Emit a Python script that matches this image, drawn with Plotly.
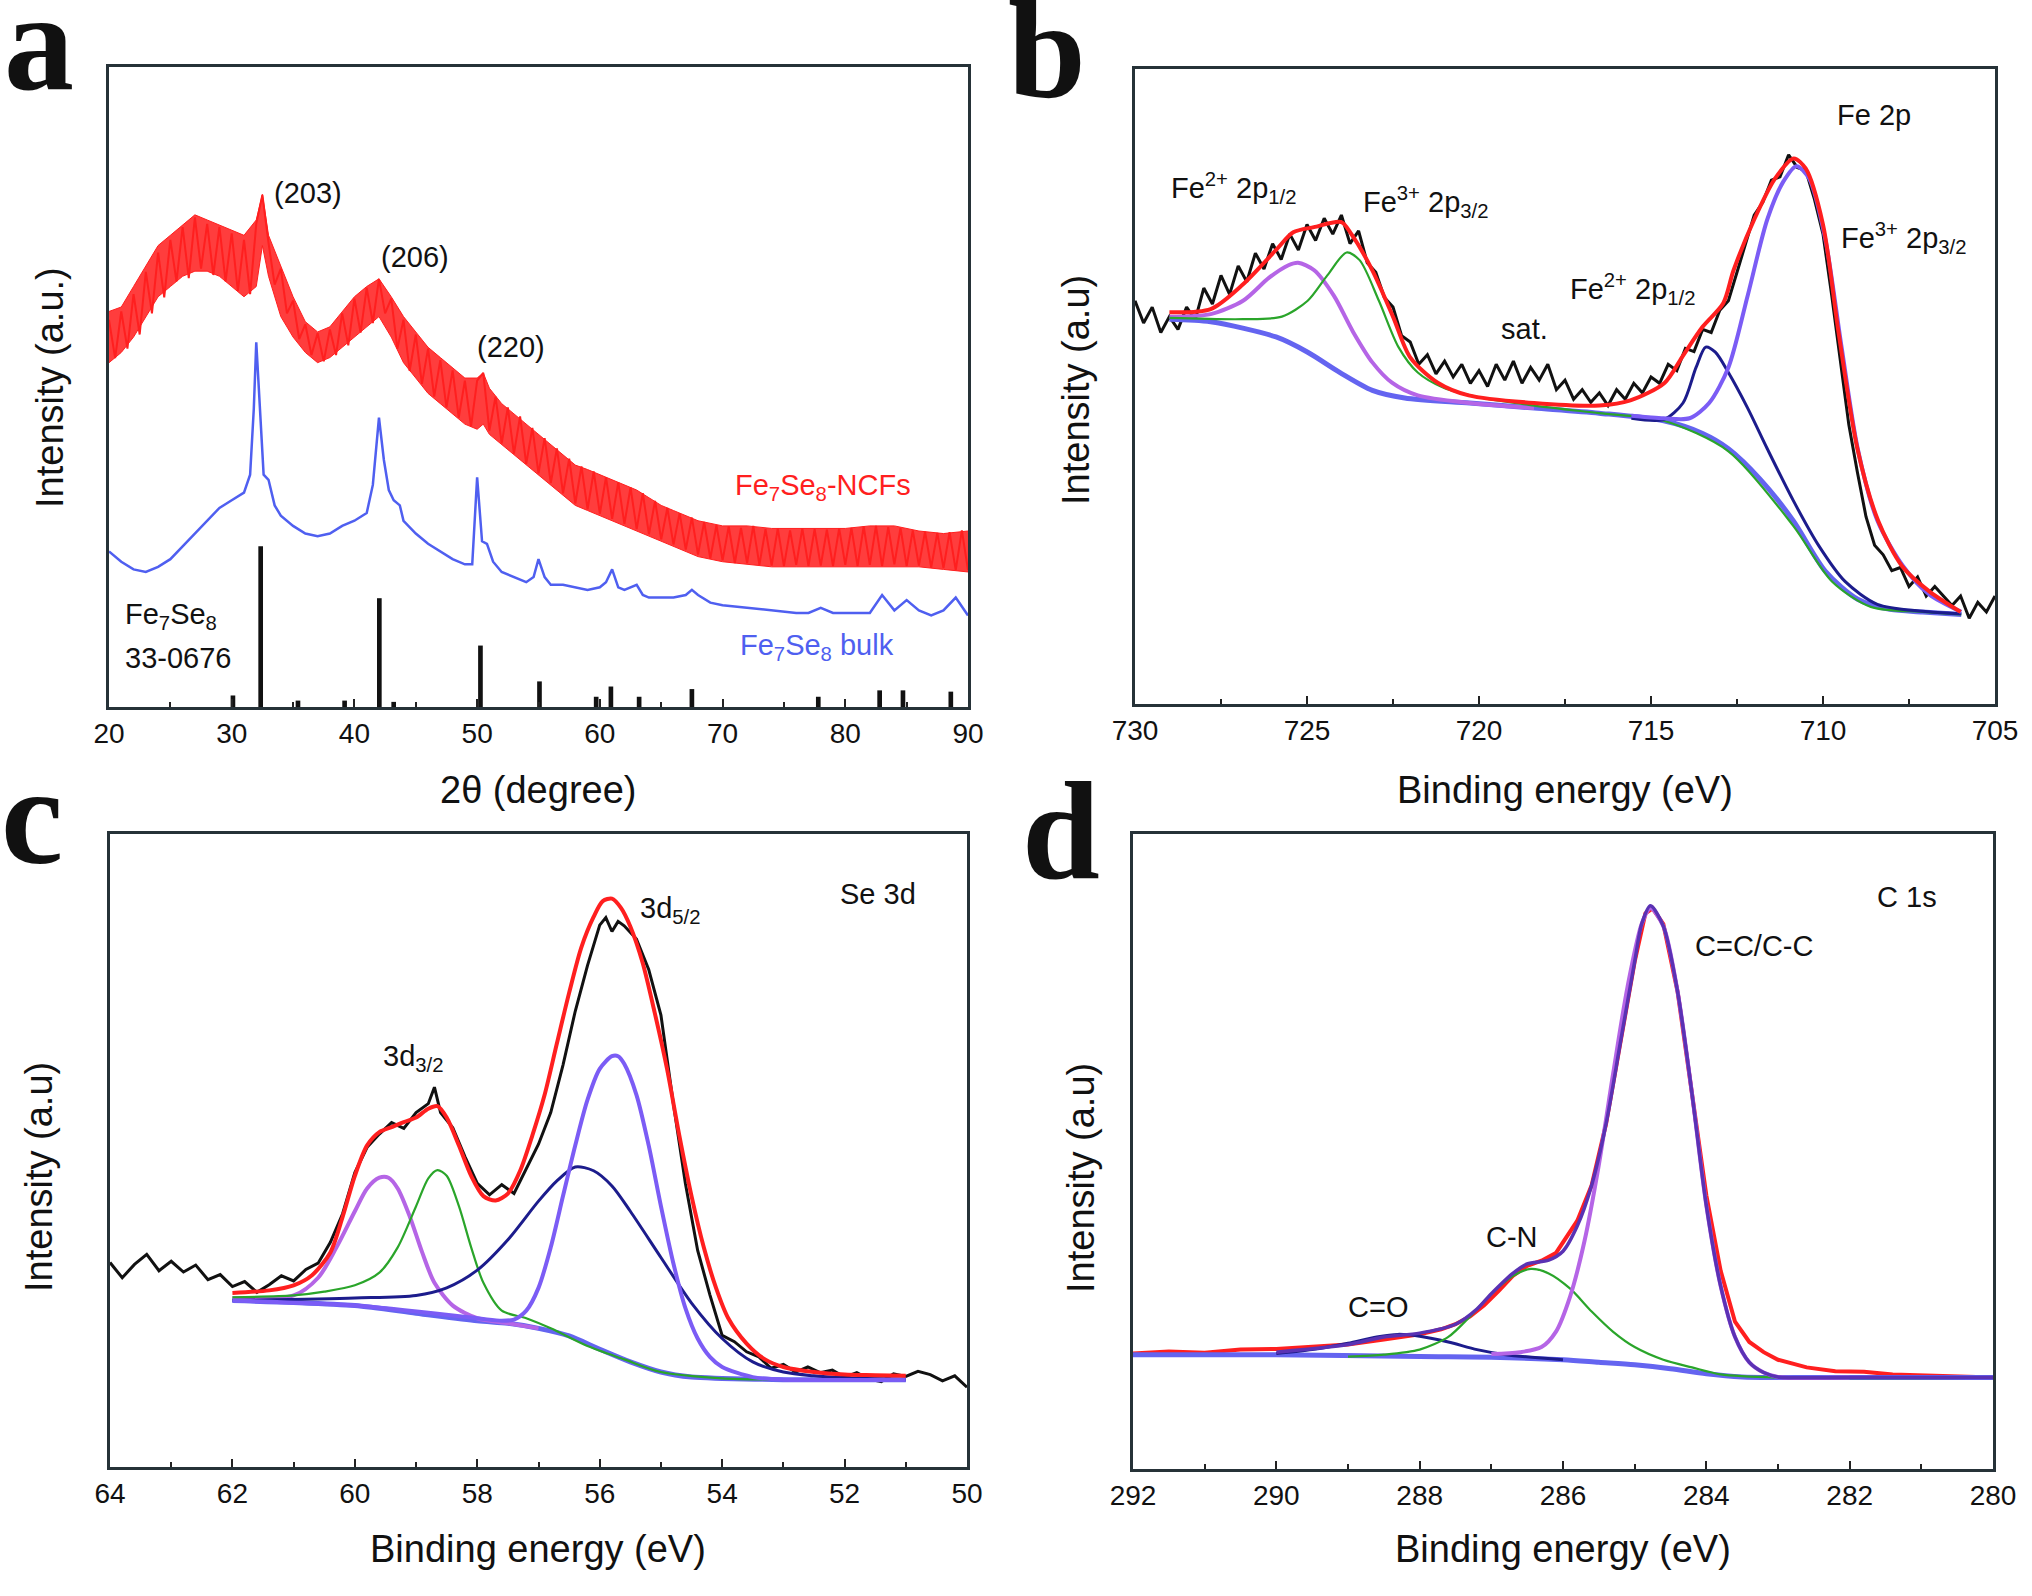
import plotly.graph_objects as go

W, H = 2032, 1596

# ---------------- panel a : XRD ----------------
a_bulk_x = [20, 21, 22, 23, 24, 25, 26, 27, 28, 29, 30, 31, 31.5, 31.8, 32, 32.3, 32.6, 33, 33.5, 34, 35, 36, 37,
            38, 39, 40, 41, 41.5, 42, 42.4, 42.8, 43.2, 43.7, 44, 45, 46, 47, 48, 49, 49.6, 50, 50.4, 50.8, 51.3,
            52, 53, 54, 54.6, 55, 55.5, 56, 57, 58, 59, 60, 60.5, 61, 61.5, 62, 63, 63.5, 64, 65, 66, 67, 67.5,
            68, 69, 70, 72, 74, 76, 77, 78, 79, 80, 82, 83, 84, 85, 86, 87, 88, 89, 90]
a_bulk_y = [24.3, 22.7, 21.5, 21.1, 21.9, 23.1, 25.1, 27.1, 29.1, 31.1, 32.3, 33.5, 36.3, 46.6, 57.0, 46.6, 36.3,
            35.5, 31.5, 29.9, 28.3, 27.1, 26.7, 27.1, 28.3, 29.1, 30.3, 34.7, 45.2, 38.6, 33.9, 32.3, 31.5, 29.1,
            27.1, 25.5, 24.3, 23.1, 22.3, 22.3, 35.9, 25.9, 25.5, 22.7, 21.1, 20.3, 19.5, 20.3, 23.1, 20.3, 19.1,
            19.1, 18.7, 18.3, 18.7, 19.5, 21.5, 18.7, 18.3, 19.1, 17.5, 17.1, 17.1, 17.1, 17.5, 18.3, 17.5, 16.3,
            15.9, 15.5, 15.1, 14.7, 14.7, 15.5, 14.7, 14.7, 14.7, 17.5, 15.1, 16.7, 15.1, 14.3, 15.1, 17.1, 14.3]

# envelope of the noisy NCF trace
a_ncf_x = [20, 21, 22, 23, 24, 25, 26, 27, 28, 29, 30, 31, 32, 32.5, 33, 34, 35, 36, 37, 38, 39, 40, 41, 42, 43,
           44, 45, 46, 47, 48, 49, 50, 50.5, 51, 52, 53, 54, 55, 56, 57, 58, 59, 60, 61, 62, 63, 64, 65, 66, 67,
           68, 70, 72, 74, 76, 78, 80, 82, 84, 86, 88, 90]
a_ncf_hi = [61.8, 62.5, 65.7, 68.9, 72.1, 73.7, 75.3, 76.9, 76.1, 75.3, 74.5, 73.7, 76.1, 80.1, 73.7, 68.9, 64.1,
            60.2, 58.6, 59.4, 61.8, 64.1, 65.7, 66.9, 64.1, 61.0, 58.6, 56.2, 54.6, 53.0, 51.4, 51.4, 52.2, 49.8,
            47.4, 45.8, 44.2, 42.6, 41.0, 39.4, 37.8, 37.1, 36.3, 35.5, 34.7, 33.9, 32.7, 31.5, 30.7, 29.9, 29.1,
            28.3, 28.3, 27.9, 27.9, 27.9, 27.9, 28.3, 28.3, 27.5, 27.1, 27.5]
a_ncf_lo = [53.8, 55.4, 57.8, 61.0, 64.1, 65.7, 67.3, 68.1, 68.1, 67.3, 65.7, 64.1, 65.7, 72.1, 67.3, 61.0, 57.8,
            55.4, 53.8, 54.6, 56.2, 57.8, 59.4, 61.0, 57.8, 53.8, 51.4, 49.0, 47.4, 45.8, 44.2, 43.4, 44.2, 42.6,
            41.0, 39.4, 37.8, 36.3, 34.7, 33.1, 31.5, 30.7, 29.9, 29.1, 28.3, 27.5, 26.7, 25.9, 25.1, 24.3, 23.5,
            22.7, 22.3, 21.9, 21.9, 21.9, 21.9, 21.9, 21.9, 21.9, 21.5, 21.1]
# the trace itself, read every 0.5 degree
a_raw_x = [20 + 0.5 * i for i in range(141)]
a_raw_y = [60.5, 54.5, 61.8, 56.0, 64.5, 58.2, 68.0, 61.5, 71.0, 64.0, 73.0, 66.5, 75.0, 67.0, 76.5, 68.5, 75.5,
           67.5, 75.0, 66.5, 74.0, 65.0, 73.0, 64.5, 75.5, 80.0, 72.5, 66.0, 68.5, 61.5, 63.5, 57.5, 59.8, 55.0,
           58.4, 54.0, 59.0, 55.0, 61.5, 56.5, 63.8, 58.5, 65.5, 60.0, 66.9, 61.5, 63.8, 56.0, 60.5, 52.5, 58.2,
           50.5, 56.0, 48.5, 54.2, 46.8, 52.6, 45.2, 51.0, 43.8, 51.0, 52.2, 43.2, 48.5, 41.2, 46.8, 39.6, 45.4,
           38.0, 43.6, 36.5, 42.0, 35.0, 40.4, 33.4, 38.8, 31.8, 37.6, 30.9, 36.8, 30.2, 35.9, 29.4, 35.1, 28.6,
           34.3, 27.8, 33.4, 27.0, 32.2, 26.2, 31.1, 25.4, 30.3, 24.6, 29.6, 23.8, 28.9, 23.2, 28.4, 22.9, 28.2,
           22.5, 28.0, 22.5, 28.3, 22.2, 27.8, 22.1, 27.9, 22.0, 27.6, 22.2, 27.9, 22.0, 27.8, 22.1, 27.7, 22.0,
           27.9, 22.2, 28.0, 22.0, 28.2, 22.2, 28.3, 22.0, 28.1, 22.3, 28.0, 22.0, 27.6, 22.1, 27.4, 21.8, 27.2,
           21.7, 27.3, 21.4, 27.6, 21.4]

a_ref_x = [30.1, 32.36, 35.4, 39.2, 42.03, 43.2, 50.27, 55.08, 59.7, 60.9, 63.2, 67.5, 77.8, 82.8, 84.7, 88.6]
a_ref_h = [1.8, 25.1, 1.0, 1.0, 17.0, 0.8, 9.6, 4.0, 1.6, 3.2, 1.6, 2.8, 1.6, 2.6, 2.6, 2.4]

# ---------------- panel b : Fe 2p ----------------
b_raw_x = [730.0, 729.75, 729.5, 729.25, 729.0, 728.75, 728.5, 728.25, 728.0, 727.75, 727.5, 727.25, 727.0,
           726.75, 726.5, 726.25, 726.0, 725.75, 725.5, 725.25, 725.0, 724.75, 724.5, 724.25, 724.0, 723.75,
           723.5, 723.25, 723.0, 722.75, 722.5, 722.25, 722.0, 721.75, 721.5, 721.25, 721.0, 720.75, 720.5,
           720.25, 720.0, 719.75, 719.5, 719.25, 719.0, 718.75, 718.5, 718.25, 718.0, 717.75, 717.5, 717.25,
           717.0, 716.75, 716.5, 716.25, 716.0, 715.75, 715.5, 715.25, 715.0, 714.75, 714.5, 714.25, 714.0,
           713.75, 713.5, 713.25, 713.0, 712.75, 712.5, 712.25, 712.0, 711.75, 711.5, 711.25, 711.0, 710.75,
           710.5, 710.25, 710.0, 709.75, 709.5, 709.25, 709.0, 708.75, 708.5, 708.25, 708.0, 707.75, 707.5,
           707.25, 707.0, 706.75, 706.25, 706.0, 705.75, 705.5, 705.25, 705.0]
b_raw_y = [63.5, 60.0, 62.5, 58.5, 61.0, 59.0, 62.5, 60.5, 65.5, 63.0, 67.5, 64.5, 69.0, 66.5, 71.0, 68.5, 72.5,
           70.0, 74.0, 71.5, 75.5, 73.0, 76.5, 74.0, 77.0, 72.5, 74.5, 69.5, 68.0, 64.0, 62.5, 58.0, 57.0, 53.5,
           55.0, 52.0, 54.0, 51.5, 53.5, 50.5, 52.5, 50.0, 53.5, 51.0, 54.0, 50.5, 53.0, 51.0, 53.5, 49.5, 51.0,
           48.0, 49.5, 47.5, 49.0, 47.0, 49.5, 48.0, 50.5, 49.0, 51.5, 50.5, 53.5, 52.5, 56.0, 55.5, 59.0, 58.5,
           62.0, 63.5, 68.0, 72.5, 77.0, 79.0, 82.5, 83.0, 86.5, 84.5, 84.0, 79.5, 74.0, 64.5, 54.0, 44.0, 36.5,
           29.5, 25.0, 23.5, 21.0, 21.5, 18.5, 20.0, 17.0, 18.5, 15.5, 17.0, 13.5, 16.0, 14.5, 17.0]
b_fit_x = [729.0, 727.8, 726.9, 725.9, 725.4, 724.8, 724.0, 723.7, 723.1, 722.5, 722.0, 721.2, 720.3, 718.4,
           716.5, 715.6, 714.6, 714.1, 713.5, 712.9, 712.6, 712.0, 711.4, 710.85, 710.5, 710.0, 709.55, 709.0,
           708.4, 707.7, 706.9, 706.0]
b_fit_y = [61.7, 62.2, 65.9, 71.5, 74.3, 75.1, 75.9, 73.9, 68.3, 61.0, 54.6, 50.6, 48.6, 47.4, 47.0, 47.8, 50.6,
           54.6, 59.4, 63.1, 68.3, 76.3, 82.7, 85.9, 84.3, 75.5, 58.6, 40.2, 28.9, 21.7, 17.7, 14.5]
b_bg_x = [729.0, 727.8, 725.9, 724.98, 724.04, 723.1, 722.16, 720.27, 718.39, 716.51, 714.63, 713.5, 712.75,
          711.81, 710.87, 709.93, 708.99, 708.05, 707.11, 705.98]
b_bg_y = [60.6, 60.2, 57.8, 55.4, 52.2, 49.4, 48.2, 47.4, 46.6, 45.8, 44.6, 42.6, 40.2, 35.3, 28.9, 20.9, 16.5,
          14.9, 14.5, 14.1]
b_p1_x = [729.0, 727.8, 726.86, 726.11, 725.54, 725.26, 724.79, 724.22, 723.66, 723.1, 722.53, 721.78, 720.27, 718.4]
b_p1_y = [61.0, 61.4, 63.5, 67.1, 69.1, 69.5, 68.3, 64.3, 58.6, 53.8, 50.6, 48.6, 47.4, 46.6]
b_p2_x = [729.0, 726.86, 725.73, 724.98, 724.41, 723.85, 723.47, 722.91, 722.34, 721.78, 721.03, 719.9, 718.39,
          716.51, 714.63, 712.75, 710.87, 709.74, 708.61, 707.11, 705.98]
b_p2_y = [60.8, 60.6, 61.0, 63.5, 67.5, 71.1, 69.9, 63.5, 56.2, 52.2, 49.8, 48.2, 47.0, 45.8, 44.6, 39.8, 28.1,
          19.3, 15.3, 14.5, 14.1]
b_p3_x = [715.57, 714.63, 714.07, 713.69, 713.41, 713.13, 712.75, 712.19, 711.62, 710.87, 710.12, 709.36, 708.42,
          707.11, 705.98]
b_p3_y = [45.0, 44.8, 47.4, 53.0, 56.2, 55.4, 52.2, 46.6, 40.2, 32.1, 24.9, 19.3, 15.7, 14.6, 14.2]
b_p4_x = [715.57, 714.63, 713.88, 713.31, 712.75, 712.19, 711.62, 711.15, 710.77, 710.4, 709.93, 709.46, 708.99,
          708.42, 707.67, 706.92, 705.98]
b_p4_y = [45.4, 45.0, 45.0, 47.4, 53.0, 64.3, 76.3, 82.3, 84.7, 82.7, 73.1, 56.2, 40.2, 28.9, 21.7, 17.3, 14.5]

# ---------------- panel c : Se 3d ----------------
c_raw_x = [64.0, 63.8, 63.6, 63.4, 63.2, 63.0, 62.8, 62.6, 62.4, 62.2, 62.0, 61.8, 61.6, 61.4, 61.2, 61.0, 60.8,
           60.6, 60.4, 60.2, 60.0, 59.8, 59.6, 59.4, 59.2, 59.0, 58.8, 58.7, 58.6, 58.4, 58.2, 58.0, 57.8, 57.6,
           57.4, 57.2, 57.0, 56.8, 56.6, 56.4, 56.2, 56.0, 55.9, 55.8, 55.7, 55.6, 55.4, 55.2, 55.0, 54.8, 54.6,
           54.4, 54.2, 54.0, 53.8, 53.6, 53.4, 53.2, 53.0, 52.8, 52.6, 52.4, 52.2, 52.0, 51.8, 51.6, 51.4, 51.2,
           51.0, 50.8, 50.6, 50.4, 50.2, 50.0]
c_raw_y = [32.3, 29.9, 32.0, 33.6, 31.0, 32.5, 30.8, 31.9, 29.6, 30.4, 28.5, 29.3, 27.6, 28.8, 30.2, 29.4, 31.2,
           32.2, 35.5, 40.0, 46.5, 50.5, 52.6, 54.4, 53.5, 56.0, 57.4, 60.0, 56.0, 53.6, 49.0, 44.8, 43.0, 44.6,
           43.2, 47.0, 51.0, 56.0, 63.5, 72.0, 79.2, 85.6, 86.8, 84.6, 86.2, 85.5, 83.4, 78.6, 71.4, 57.6, 44.8,
           34.2, 27.2, 20.8, 19.8, 18.2, 17.4, 15.6, 16.2, 15.0, 15.8, 14.9, 15.3, 14.2, 14.9, 13.9, 13.5, 14.7,
           14.3, 15.1, 14.6, 13.6, 14.4, 12.6]
c_fit_x = [62.0, 61.4, 61.0, 60.7, 60.4, 60.2, 60.0, 59.8, 59.6, 59.4, 59.2, 59.0, 58.8, 58.65, 58.5, 58.3, 58.1,
           57.9, 57.7, 57.5, 57.3, 57.1, 56.9, 56.7, 56.5, 56.3, 56.1, 55.95, 55.8, 55.65, 55.5, 55.3, 55.1, 54.9,
           54.7, 54.5, 54.3, 54.1, 53.9, 53.6, 53.3, 53.0, 52.5, 52.0, 51.5, 51.0]
c_fit_y = [27.5, 27.9, 28.7, 30.3, 33.9, 39.5, 46.0, 50.8, 52.9, 53.7, 54.5, 55.2, 56.6, 57.0, 55.2, 50.8, 46.0,
           42.8, 42.1, 43.2, 46.8, 52.4, 58.8, 66.9, 74.9, 82.1, 86.9, 89.4, 89.8, 88.3, 85.4, 79.7, 71.7, 62.9,
           52.4, 42.8, 34.7, 28.3, 23.5, 19.5, 17.0, 15.8, 15.0, 14.6, 14.5, 14.4]
c_bg_x = [62.0, 61.0, 60.0, 59.0, 58.0, 57.5, 57.0, 56.5, 56.0, 55.5, 55.0, 54.5, 54.0, 53.0, 52.0, 51.0]
c_bg_y = [26.3, 26.0, 25.5, 24.3, 23.1, 22.7, 21.9, 20.7, 18.6, 16.6, 15.0, 14.2, 14.0, 13.8, 13.8, 13.8]
c_p1_x = [62.0, 61.0, 60.6, 60.3, 60.0, 59.8, 59.6, 59.45, 59.3, 59.1, 58.9, 58.7, 58.4, 58.0, 57.5, 57.0]
c_p1_y = [26.7, 27.1, 29.9, 34.7, 40.4, 44.0, 45.7, 45.7, 44.0, 39.5, 33.9, 29.1, 25.5, 23.5, 22.7, 21.9]
c_p2_x = [62.0, 61.0, 60.5, 60.0, 59.6, 59.3, 59.0, 58.8, 58.65, 58.5, 58.3, 58.1, 57.9, 57.6, 57.2, 56.8, 56.2,
          55.6, 55.0, 54.0, 53.0, 52.0, 51.0]
c_p2_y = [26.8, 27.1, 27.7, 28.7, 30.7, 34.7, 41.2, 45.6, 46.9, 46.0, 41.2, 34.7, 29.1, 24.7, 23.5, 21.9, 19.1,
          17.0, 15.0, 14.0, 13.8, 13.8, 13.8]
c_p3_x = [62.0, 60.0, 59.0, 58.5, 58.0, 57.5, 57.0, 56.7, 56.4, 56.1, 55.8, 55.5, 55.0, 54.5, 54.0, 53.5, 53.0,
          52.5, 52.0, 51.0]
c_p3_y = [26.3, 26.7, 27.1, 28.3, 31.1, 35.9, 42.0, 45.2, 47.4, 46.8, 44.4, 40.4, 33.1, 25.9, 20.3, 16.6, 15.0,
          14.4, 14.1, 13.8]
c_p4_x = [62.0, 60.0, 58.0, 57.6, 57.4, 57.2, 57.0, 56.8, 56.6, 56.4, 56.2, 56.0, 55.8, 55.7, 55.6, 55.4, 55.2,
          55.0, 54.8, 54.6, 54.4, 54.2, 54.0, 53.5, 53.0, 51.0]
c_p4_y = [26.3, 25.5, 23.5, 23.1, 23.3, 24.7, 28.3, 34.7, 42.8, 50.8, 58.0, 62.9, 64.9, 64.9, 63.7, 58.8, 50.8,
          41.2, 32.3, 25.1, 20.3, 17.4, 15.8, 14.2, 13.8, 13.8]

# ---------------- panel d : C 1s ----------------
d_raw_x = [292.0, 291.5, 291.0, 290.5, 290.0, 289.5, 289.0, 288.5, 288.0, 287.7, 287.5, 287.3, 287.1, 286.9,
           286.7, 286.5, 286.3, 286.1, 285.95, 285.8, 285.6, 285.4, 285.2, 285.0, 284.85, 284.75, 284.6, 284.4,
           284.2, 284.0, 283.8, 283.6, 283.4, 283.2, 283.0, 282.6, 282.2, 281.8, 281.4, 281.0, 280.5, 280.0]
d_raw_y = [18.2, 18.5, 18.3, 18.8, 18.9, 19.3, 19.6, 20.4, 21.2, 22.0, 22.8, 24.0, 25.8, 28.0, 30.4, 32.0, 32.8,
           34.0, 36.5, 39.1, 44.7, 54.3, 67.1, 79.9, 87.5, 88.3, 85.8, 75.1, 59.1, 43.1, 31.2, 23.2, 20.0, 18.4,
           17.2, 16.0, 15.4, 15.3, 14.9, 14.8, 14.6, 14.4]
d_env_x = [290.0, 289.0, 288.5, 288.0, 287.5, 287.2, 287.0, 286.7, 286.5, 286.2, 286.0, 285.8, 285.6, 285.4,
           285.2, 285.0, 284.9, 284.78, 284.6, 284.4, 284.2, 284.0, 283.8, 283.6, 283.4, 283.2, 283.0, 282.0, 280.0]
d_env_y = [18.4, 19.6, 20.8, 21.4, 22.8, 25.2, 27.6, 30.8, 32.3, 32.9, 34.3, 38.3, 44.7, 54.3, 67.1, 79.9, 85.9,
           88.7, 85.5, 75.1, 59.1, 41.5, 28.8, 20.8, 16.8, 15.2, 14.5, 14.4, 14.4]
d_bg_x = [292.0, 290.0, 288.0, 287.0, 286.0, 285.5, 285.0, 284.5, 284.0, 283.5, 283.0, 280.0]
d_bg_y = [18.0, 18.0, 17.7, 17.6, 17.2, 16.8, 16.4, 15.8, 15.0, 14.5, 14.4, 14.4]
d_p1_x = [290.0, 289.5, 289.0, 288.6, 288.3, 288.0, 287.6, 287.2, 286.8, 286.0]
d_p1_y = [18.2, 18.8, 19.8, 20.8, 21.2, 20.9, 20.0, 18.8, 18.0, 17.2]
d_p2_x = [289.0, 288.5, 288.0, 287.6, 287.3, 287.0, 286.7, 286.45, 286.2, 285.9, 285.6, 285.3, 285.0, 284.6,
          284.2, 283.8, 283.0, 280.0]
d_p2_y = [17.7, 18.0, 18.8, 20.8, 24.0, 27.6, 30.4, 31.5, 30.8, 28.4, 24.8, 21.6, 19.2, 17.2, 16.0, 14.9, 14.4, 14.4]
d_p3_x = [287.0, 286.6, 286.3, 286.1, 285.9, 285.7, 285.5, 285.3, 285.1, 284.9, 284.78, 284.6, 284.4, 284.2,
          284.0, 283.8, 283.6, 283.4, 283.2, 283.0, 282.0]
d_p3_y = [18.1, 18.4, 19.2, 21.6, 27.2, 35.9, 47.9, 62.3, 75.9, 85.9, 88.3, 85.5, 75.1, 59.1, 41.5, 28.8, 20.8,
          16.8, 15.2, 14.5, 14.4]

RED = "#ff1f1f"
GREEN = "#2aa52a"
NAVY = "#1c1c8c"
VIOLET = "#7b5cf5"
ORCHID = "#b565e6"
BG = "#6464f0"
BLUE = "#4f5ff0"
FONT = "Liberation Sans, Arial, sans-serif"
SERIF = "Liberation Serif, Times New Roman, serif"

fig = go.Figure()


def line(x, y, color, width, xa, ya, spline=True):
    fig.add_scatter(x=x, y=y, mode="lines", xaxis=xa, yaxis=ya,
                    line=dict(color=color, width=width, shape="spline" if spline else "linear", smoothing=0.8))


# panel a
fig.add_bar(x=a_ref_x, y=a_ref_h, width=0.38, marker=dict(color="#111", line=dict(width=0)), xaxis="x", yaxis="y")
line(a_bulk_x, a_bulk_y, BLUE, 2.5, "x", "y", spline=False)
fig.add_scatter(x=a_ncf_x, y=a_ncf_lo, mode="lines", line=dict(color=RED, width=1), xaxis="x", yaxis="y")
fig.add_scatter(x=a_ncf_x, y=a_ncf_hi, mode="lines", line=dict(color=RED, width=1), fill="tonexty",
                fillcolor="rgba(255,40,40,0.9)", xaxis="x", yaxis="y")
line(a_raw_x, a_raw_y, RED, 2, "x", "y", spline=False)

# panel b
line(b_raw_x, b_raw_y, "#111", 3, "x2", "y2", spline=False)
line(b_bg_x, b_bg_y, BG, 5, "x2", "y2")
line(b_p1_x, b_p1_y, ORCHID, 4, "x2", "y2")
line(b_p2_x, b_p2_y, GREEN, 2.2, "x2", "y2")
line(b_p3_x, b_p3_y, NAVY, 3, "x2", "y2")
line(b_p4_x, b_p4_y, VIOLET, 4, "x2", "y2")
line(b_fit_x, b_fit_y, RED, 4, "x2", "y2")

# panel c
line(c_raw_x, c_raw_y, "#111", 3, "x3", "y3", spline=False)
line(c_bg_x, c_bg_y, BG, 5, "x3", "y3")
line(c_p1_x, c_p1_y, ORCHID, 4, "x3", "y3")
line(c_p2_x, c_p2_y, GREEN, 2.2, "x3", "y3")
line(c_p3_x, c_p3_y, NAVY, 3, "x3", "y3")
line(c_p4_x, c_p4_y, VIOLET, 4, "x3", "y3")
line(c_fit_x, c_fit_y, RED, 4, "x3", "y3")

# panel d
line(d_raw_x, d_raw_y, RED, 4, "x4", "y4", spline=False)
line(d_bg_x, d_bg_y, BG, 5, "x4", "y4")
line(d_p1_x, d_p1_y, NAVY, 3, "x4", "y4")
line(d_p2_x, d_p2_y, GREEN, 2.2, "x4", "y4")
line(d_p3_x, d_p3_y, ORCHID, 4, "x4", "y4")
line(d_env_x, d_env_y, "#5a32b4", 3.5, "x4", "y4")


def px(x0, x1):
    return [x0 / W, x1 / W]


def py(top, bottom):
    return [1 - bottom / H, 1 - top / H]


def xaxis(dom, rng, dtick, minor, yname):
    return dict(domain=dom, range=rng, anchor=yname, tickmode="linear", dtick=dtick, ticks="inside", ticklen=8,
                tickwidth=2, tickcolor="#222", minor=dict(dtick=minor, ticks="inside", ticklen=5, tickwidth=2,
                                                          tickcolor="#222"),
                showline=True, linewidth=2.5, linecolor="#263238", mirror=True, showgrid=False, zeroline=False,
                tickfont=dict(family=FONT, size=28, color="#111"), ticklabelstandoff=0)


def yaxis(dom, xname):
    return dict(domain=dom, range=[0, 100], anchor=xname, showticklabels=False, ticks="", showline=True,
                linewidth=2.5, linecolor="#263238", mirror=True, showgrid=False, zeroline=False)


fig.update_layout(
    width=W, height=H, margin=dict(l=0, r=0, t=0, b=0, autoexpand=False), showlegend=False,
    paper_bgcolor="white", plot_bgcolor="white",
    xaxis=xaxis(px(109, 968), [20, 90], 10, 5, "y"),
    yaxis=yaxis(py(67, 707), "x"),
    xaxis2=xaxis(px(1135, 1995), [730, 705], 5, 2.5, "y2"),
    yaxis2=yaxis(py(69, 704), "x2"),
    xaxis3=xaxis(px(110, 967), [64, 50], 2, 1, "y3"),
    yaxis3=yaxis(py(834, 1467), "x3"),
    xaxis4=xaxis(px(1133, 1993), [292, 280], 2, 1, "y4"),
    yaxis4=yaxis(py(834, 1469), "x4"),
)

notes = []


def note(text, x, y, size=29, color="#111", xanchor="center", family=FONT, angle=0):
    notes.append(dict(text=text, x=x / W, y=1 - y / H, xref="paper", yref="paper", showarrow=False,
                      xanchor=xanchor, yanchor="middle", textangle=angle,
                      font=dict(family=family, size=size, color=color)))


note("<b>a</b>", 39, 42, 140, family=SERIF)
note("<b>b</b>", 1047, 50, 140, family=SERIF)
note("<b>c</b>", 32, 815, 140, family=SERIF)
note("<b>d</b>", 1061, 830, 140, family=SERIF)

note("(203)", 308, 193)
note("(206)", 415, 257)
note("(220)", 511, 347)
note("Fe<sub>7</sub>Se<sub>8</sub>-NCFs", 823, 487, color=RED)
note("Fe<sub>7</sub>Se<sub>8</sub> bulk", 817, 647, color=BLUE)
note("Fe<sub>7</sub>Se<sub>8</sub>", 123, 616, xanchor="left")
note("33-0676", 123, 658, xanchor="left")

note("Fe 2p", 1874, 115)
note("Fe<sup>2+</sup> 2p<sub>1/2</sub>", 1234, 188)
note("Fe<sup>3+</sup> 2p<sub>3/2</sub>", 1426, 202)
note("sat.", 1524, 329)
note("Fe<sup>2+</sup> 2p<sub>1/2</sub>", 1633, 289)
note("Fe<sup>3+</sup> 2p<sub>3/2</sub>", 1904, 238)

note("Se 3d", 878, 894)
note("3d<sub>5/2</sub>", 670, 910)
note("3d<sub>3/2</sub>", 413, 1058)

note("C 1s", 1907, 897)
note("C=C/C-C", 1754, 946)
note("C-N", 1512, 1237)
note("C=O", 1378, 1307)

note("2θ (degree)", 538, 790, 38)
note("Binding energy (eV)", 1565, 790, 38)
note("Binding energy (eV)", 538, 1549, 38)
note("Binding energy (eV)", 1563, 1549, 38)
note("Intensity (a.u.)", 50, 388, 38, angle=-90)
note("Intensity (a.u)", 1076, 390, 38, angle=-90)
note("Intensity (a.u)", 39, 1177, 38, angle=-90)
note("Intensity (a.u)", 1081, 1178, 38, angle=-90)

fig.update_layout(annotations=notes)

fig.write_html("out.html", config={"displayModeBar": False},
               post_script="document.body.style.margin='0';")
